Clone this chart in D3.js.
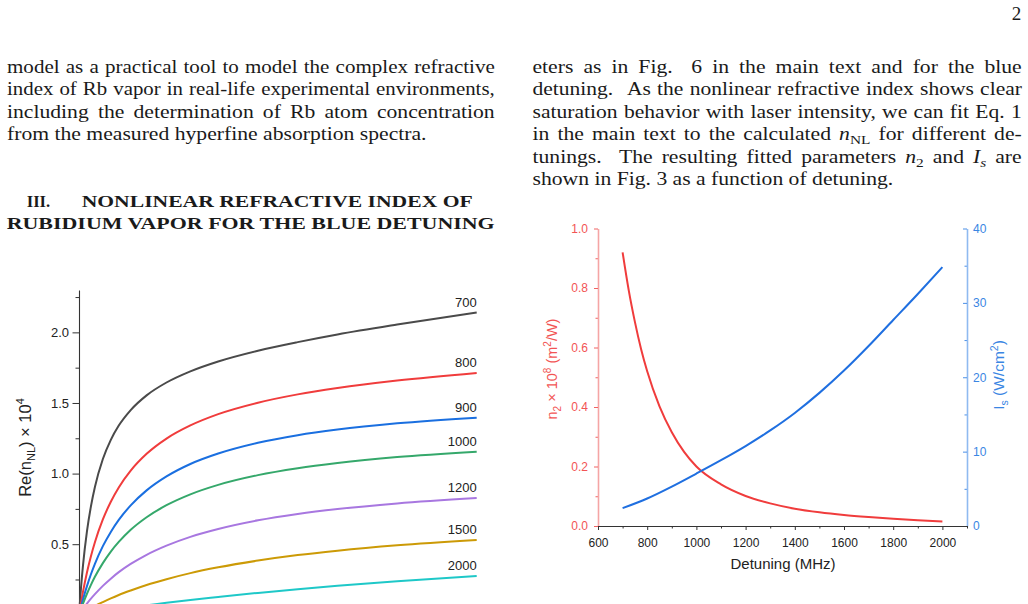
<!DOCTYPE html>
<html><head><meta charset="utf-8">
<script src="https://cdn.jsdelivr.net/npm/d3@7"></script>
<style>html,body{margin:0;padding:0;background:#fff;overflow:hidden}</style>
</head><body>
<script>
// ---------- DATA ----------
// Left chart: Re(n_NL) x 1e4 vs laser intensity (arbitrary units), one series per detuning (MHz)
const intensity = [0,0.5,1,2,3,4,6,8,10,13,17,22,28,35,45,55,65,80,100];
const seriesLabels = ["700","800","900","1000","1200","1500","2000"];
const re700  = [0,0.191,0.348,0.590,0.768,0.905,1.103,1.239,1.340,1.450,1.554,1.645,1.724,1.794,1.870,1.931,1.985,2.055,2.140];
const re800  = [0,0.085,0.163,0.300,0.415,0.514,0.675,0.801,0.902,1.021,1.140,1.248,1.341,1.421,1.502,1.561,1.606,1.659,1.713];
const re900  = [0,0.056,0.109,0.203,0.287,0.361,0.486,0.587,0.672,0.775,0.881,0.980,1.068,1.142,1.218,1.272,1.312,1.356,1.396];
const re1000 = [0,0.041,0.079,0.149,0.212,0.269,0.366,0.448,0.516,0.602,0.691,0.776,0.853,0.920,0.989,1.038,1.075,1.117,1.155];
const re1200 = [0,0.021,0.041,0.079,0.114,0.146,0.205,0.256,0.302,0.360,0.425,0.490,0.552,0.608,0.669,0.714,0.749,0.789,0.827];
const re1500 = [0,0.008,0.017,0.033,0.048,0.063,0.090,0.116,0.140,0.172,0.211,0.252,0.295,0.336,0.384,0.423,0.454,0.492,0.530];
const re2000 = [0,0.002,0.004,0.009,0.013,0.017,0.025,0.033,0.041,0.053,0.067,0.085,0.105,0.126,0.155,0.181,0.205,0.237,0.274];
const seriesColors = ["#4a4a4a","#f03c3c","#1a6fe0","#35a86b","#a877e0","#cc9a06","#1ec8c8"];
const reMajorTicks = [0.5,1.0,1.5,2.0];
const reMinorTicks = [0.25,0.75,1.25,1.75,2.25];

// Right chart: fitted n2 and Is vs detuning
const detuningN2 = [700,725,750,775,800,850,900,950,1000,1100,1200,1300,1400,1500,1600,1700,1800,1900,2000];
const n2Values   = [0.92,0.792,0.686,0.595,0.52,0.402,0.315,0.249,0.20,0.14,0.101,0.076,0.058,0.046,0.037,0.030,0.024,0.019,0.0155];
const detuningIs = [700,800,900,1000,1100,1200,1300,1400,1500,1600,1700,1800,1900,2000];
const IsValues   = [2.4,3.7,5.3,7.05,8.85,10.75,12.85,15.2,17.9,20.9,24.2,27.7,31.2,34.8];
const detMajorTicks = [600,800,1000,1200,1400,1600,1800,2000];
const detMinorTicks = [700,900,1100,1300,1500,1700,1900,2100];
const n2MajorTicks = [0,0.2,0.4,0.6,0.8,1.0];
const n2MinorTicks = [0.1,0.3,0.5,0.7,0.9];
const IsMajorTicks = [0,10,20,30,40];
const IsMinorTicks = [5,15,25,35];

// Page text
const leftPara = [
  ["model as a practical tool to model the complex refractive"],
  ["index of Rb vapor in real-life experimental environments,"],
  ["including the determination of Rb atom concentration"],
  ["from the measured hyperfine absorption spectra."]
];
const rightPara = [
  ["eters as in Fig.\u2009\u2009 6 in the main text and for the blue"],
  ["detuning.\u2009\u2009 As the nonlinear refractive index shows clear"],
  ["saturation behavior with laser intensity, we can fit Eq. 1"],
  ["in the main text to the calculated ", {t:"n",it:true}, {t:"NL",sub:true}, " for different de-"],
  ["tunings.\u2009\u2009 The resulting fitted parameters ", {t:"n",it:true}, {t:"2",sub:true}, " and ", {t:"I",it:true}, {t:"s",it:true,sub:true}, " are"],
  ["shown in Fig. 3 as a function of detuning."]
];

// ---------- DRAW ----------
const W=1028, H=604;
const serif = "'Liberation Serif','Times New Roman',serif";
const sans = "'Liberation Sans',Arial,Helvetica,sans-serif";
const svg = d3.select("body").append("svg").attr("width",W).attr("height",H).style("display","block");
svg.append("rect").attr("width",W).attr("height",H).attr("fill","#fff");

const STRETCH = 1.14;
function drawLine(x, y, width, segs, just){
  const t = svg.append("text").attr("x",0).attr("y",0)
    .attr("font-family",serif).attr("font-size",19).attr("fill","#1a1a1a")
    .style("white-space","pre");
  let shift = 0;
  segs.forEach(s=>{
    const seg = (typeof s==="string") ? {t:s} : s;
    const sp = t.append("tspan").text(seg.t);
    const want = seg.sub ? 4 : 0;
    if (want!==shift){ sp.attr("dy", want-shift); shift = want; }
    if (seg.it) sp.attr("font-style","italic");
    if (seg.sub) sp.attr("font-size",13.5);
  });
  const nat = t.node().getComputedTextLength();
  const n = (t.text().match(/ /g)||[]).length;
  let s = STRETCH;
  if (just && n>0) s = Math.min(STRETCH, width/(nat + n*0.8));
  t.attr("transform",`translate(${x},${y}) scale(${s},1)`);
  if (just && n>0) t.style("word-spacing", ((width/s-nat)/n)+"px");
  return t;
}

// page number
svg.append("text").attr("x",1016.5).attr("y",19.5).attr("text-anchor","middle")
  .attr("font-family",serif).attr("font-size",19).attr("fill","#1a1a1a").text("2");

leftPara.forEach((l,i)=> drawLine(7, 72.5+22.5*i, 488, l, i<leftPara.length-1));
rightPara.forEach((l,i)=> drawLine(532.5, 72.5+22.5*i, 489.5, l, i<rightPara.length-1));

// heading
const hd = svg.append("g").attr("font-family",serif).attr("font-weight","bold").attr("font-size",17.5).attr("fill","#1a1a1a");
hd.append("text").attr("x",26.7).attr("y",207).attr("textLength",23.5).attr("lengthAdjust","spacingAndGlyphs").text("III.");
hd.append("text").attr("x",81.7).attr("y",207).attr("textLength",391).attr("lengthAdjust","spacingAndGlyphs").text("NONLINEAR REFRACTIVE INDEX OF");
hd.append("text").attr("x",6.7).attr("y",228.5).attr("textLength",488).attr("lengthAdjust","spacingAndGlyphs").text("RUBIDIUM VAPOR FOR THE BLUE DETUNING");

// ----- Left chart -----
const xL = d3.scaleLinear().domain([0,100]).range([79,476.7]);
const yL = d3.scaleLinear().domain([0,2.3]).range([614.8,290]);
const gL = svg.append("g");
gL.append("g").attr("transform","translate(79,0)")
  .call(d3.axisLeft(yL).tickValues(reMinorTicks).tickSize(3.5).tickFormat(""))
  .call(g=>g.select(".domain").remove())
  .call(g=>g.selectAll("line").attr("stroke","#333"));
gL.append("g").attr("transform","translate(79,0)")
  .call(d3.axisLeft(yL).tickValues(reMajorTicks).tickSize(6.5).tickSizeOuter(0).tickPadding(3.5).tickFormat(d3.format(".1f")))
  .call(g=>g.select(".domain").attr("stroke","#333").attr("stroke-width",1.1))
  .call(g=>g.selectAll("line").attr("stroke","#333"))
  .call(g=>g.selectAll("text").attr("font-family",sans).attr("font-size",13).attr("fill","#222"));

const series = [re700,re800,re900,re1000,re1200,re1500,re2000];
const lineL = d3.line().x((d,i)=>xL(intensity[i])).y(d=>yL(d)).curve(d3.curveMonotoneX);
series.forEach((s,k)=>{
  gL.append("path").attr("d",lineL(s)).attr("fill","none").attr("stroke",seriesColors[k]).attr("stroke-width",2);
  gL.append("text").attr("x",476.7).attr("y",yL(s[s.length-1])-6).attr("text-anchor","end")
    .attr("font-family",sans).attr("font-size",13).attr("fill","#222").text(seriesLabels[k]);
});

// y label left chart
const yl = gL.append("text").attr("transform","translate(30.5,447.5) rotate(-90)").attr("text-anchor","middle")
  .attr("font-family",sans).attr("font-size",16.5).attr("fill","#222");
yl.append("tspan").text("Re(n");
yl.append("tspan").attr("font-size",11).attr("dy",4).text("NL");
yl.append("tspan").attr("dy",-4).text(") \u00d7 10");
yl.append("tspan").attr("font-size",11).attr("dy",-7).text("4");

// ----- Right chart -----
const xR = d3.scaleLinear().domain([600,2100]).range([598,967]);
const yN = d3.scaleLinear().domain([0,1]).range([526,228.5]);
const yI = d3.scaleLinear().domain([0,40]).range([526,228.5]);
const gR = svg.append("g");

const redAx="#f5a5a5", redTk="#f06262", redTx="#f25454";
const bluAx="#8fbaf0", bluTk="#4a8fe6", bluTx="#3a86e3";

// left (red) axis
gR.append("g").attr("transform","translate(598,0)")
  .call(d3.axisLeft(yN).tickValues(n2MinorTicks).tickSize(2.5).tickFormat(""))
  .call(g=>g.select(".domain").remove())
  .call(g=>g.selectAll("line").attr("stroke",redTk));
gR.append("g").attr("transform","translate(598,0)")
  .call(d3.axisLeft(yN).tickValues(n2MajorTicks).tickSize(4).tickSizeOuter(0).tickPadding(6).tickFormat(d3.format(".1f")))
  .call(g=>g.select(".domain").attr("stroke",redAx).attr("stroke-width",1.6))
  .call(g=>g.selectAll("line").attr("stroke",redTk))
  .call(g=>g.selectAll("text").attr("font-family",sans).attr("font-size",12).attr("fill",redTx));

// right (blue) axis
gR.append("g").attr("transform","translate(967,0)")
  .call(d3.axisRight(yI).tickValues(IsMinorTicks).tickSize(-2.5).tickFormat(""))
  .call(g=>g.select(".domain").remove())
  .call(g=>g.selectAll("line").attr("stroke",bluTk));
gR.append("g").attr("transform","translate(967,0)")
  .call(d3.axisRight(yI).tickValues(IsMajorTicks).tickSizeInner(-4).tickSizeOuter(0).tickPadding(6).tickFormat(d3.format("d")))
  .call(g=>g.select(".domain").attr("stroke",bluAx).attr("stroke-width",1.6))
  .call(g=>g.selectAll("line").attr("stroke",bluTk))
  .call(g=>g.selectAll("text").attr("font-family",sans).attr("font-size",12).attr("fill",bluTx));

// bottom axis
gR.append("g").attr("transform","translate(0,526)")
  .call(d3.axisBottom(xR).tickValues(detMinorTicks).tickSize(2.5).tickFormat(""))
  .call(g=>g.select(".domain").remove())
  .call(g=>g.selectAll("line").attr("stroke","#333"));
gR.append("g").attr("transform","translate(0,526)")
  .call(d3.axisBottom(xR).tickValues(detMajorTicks).tickSize(4).tickSizeOuter(0).tickPadding(8).tickFormat(d3.format("d")))
  .call(g=>g.select(".domain").attr("stroke","#333").attr("stroke-width",1.1))
  .call(g=>g.selectAll("line").attr("stroke","#333"))
  .call(g=>g.selectAll("text").attr("font-family",sans).attr("font-size",12).attr("fill","#222"));

// curves
gR.append("path").attr("d", d3.line().x((d,i)=>xR(detuningN2[i])).y(d=>yN(d)).curve(d3.curveMonotoneX)(n2Values))
  .attr("fill","none").attr("stroke","#f03c3c").attr("stroke-width",2);
gR.append("path").attr("d", d3.line().x((d,i)=>xR(detuningIs[i])).y(d=>yI(d)).curve(d3.curveMonotoneX)(IsValues))
  .attr("fill","none").attr("stroke","#1f6fe0").attr("stroke-width",2);

// axis titles
gR.append("text").attr("x",783).attr("y",569).attr("text-anchor","middle")
  .attr("font-family",sans).attr("font-size",15).attr("fill","#222").text("Detuning (MHz)");

const rl = gR.append("text").attr("transform","translate(557,369) rotate(-90)").attr("text-anchor","middle")
  .attr("font-family",sans).attr("font-size",14.5).attr("fill",redTx);
rl.append("tspan").text("n");
rl.append("tspan").attr("font-size",10).attr("dy",4).text("2");
rl.append("tspan").attr("dy",-4).text(" \u00d7 10");
rl.append("tspan").attr("font-size",10).attr("dy",-6).text("8");
rl.append("tspan").attr("dy",6).text(" (m");
rl.append("tspan").attr("font-size",10).attr("dy",-6).text("2");
rl.append("tspan").attr("dy",6).text("/W)");

const bl = gR.append("text").attr("transform","translate(1004,375) rotate(-90)").attr("text-anchor","middle")
  .attr("font-family",sans).attr("font-size",15.5).attr("fill",bluTx);
bl.append("tspan").text("I");
bl.append("tspan").attr("font-size",10.5).attr("dy",4).text("s");
bl.append("tspan").attr("dy",-4).text(" (W/cm");
bl.append("tspan").attr("font-size",10.5).attr("dy",-6).text("2");
bl.append("tspan").attr("dy",6).text(")");
</script>
</body></html>
